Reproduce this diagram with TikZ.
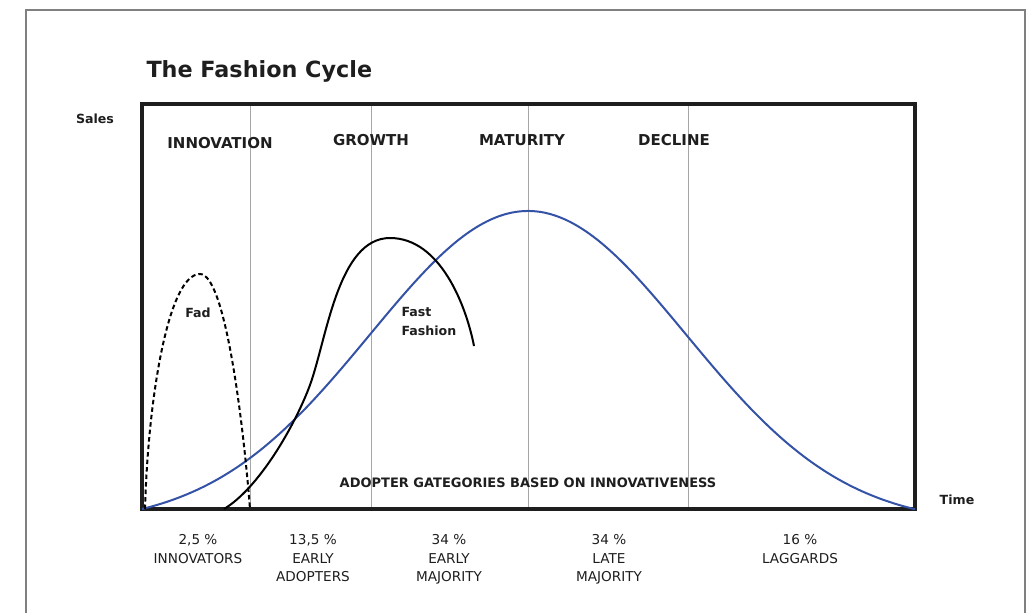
\documentclass[tikz,border=0pt]{standalone}
\usepackage{fontspec}
\setmainfont{DejaVu Sans}

\definecolor{bellblue}{RGB}{52,82,166}
\definecolor{ink}{RGB}{30,30,30}

\begin{document}
\begin{tikzpicture}[x=1pt,y=-1pt,
  phase/.style={font=\bfseries\fontsize{15}{16}\selectfont,text=ink,anchor=base},
  group/.style={font=\fontsize{13.6}{18.5}\selectfont,text=ink,align=center,anchor=north},
  axislabel/.style={font=\bfseries\fontsize{12.6}{14}\selectfont,text=ink,anchor=base},
  curvelabel/.style={font=\bfseries\fontsize{12.6}{19}\selectfont,text=ink,align=left}]
\useasboundingbox (0,0) rectangle (1034,613);

% frame
\draw[gray,line width=1.5pt] (26,613) -- (26,10) -- (1025,10) -- (1025,613);

\node[anchor=base west,font=\bfseries\fontsize{22.3}{28}\selectfont,text=ink] (title) at (143,77) {The Fashion Cycle};

% phase separators
\foreach \x in {250,371,528,688}
  \draw[gray!70,line width=0.8pt] (\x,104) -- (\x,508);

\draw[line width=3.2pt,ink] (142,104) rectangle (915,509);

\node[phase] (innov) at (220,148) {INNOVATION};
\node[phase] (growth) at (371,145) {GROWTH};
\node[phase] (matur) at (522,145) {MATURITY};
\node[phase] (decl) at (674,145) {DECLINE};

\node[axislabel] (sales) at (95,123) {Sales};
\node[axislabel] (time) at (957,504) {Time};

% curves
\draw[bellblue,line width=2pt] plot[domain=142:915,samples=120,smooth]
  (\x,{509-298*(exp(-((\x-528)/158)^2/2)-0.0505)/0.9495});

\draw[line width=2pt,dash pattern=on 4.5pt off 3pt]
  (145,509) .. controls (148,400) and (168,274) .. (200,274)
  .. controls (225,274) and (243,420) .. (250,509);

\draw[line width=2pt]
  (224,509) .. controls (259,488) and (295,425.5) .. (310,385)
  .. controls (327,338) and (338,238) .. (390,238)
  .. controls (440,238) and (466,305) .. (474,346);

\node[curvelabel,anchor=base] (fad) at (198,317) {Fad};
\node[curvelabel,anchor=north west] (fast) at (398,304) {Fast\\Fashion};

\node[axislabel,font=\bfseries\fontsize{13}{14}\selectfont] (adopt) at (528,487) {ADOPTER GATEGORIES BASED ON INNOVATIVENESS};

% adopter groups
\node[group] (g1) at (198,531) {2,5 \%\\INNOVATORS};
\node[group] (g2) at (313,531) {13,5 \%\\EARLY\\ADOPTERS};
\node[group] (g3) at (449,531) {34 \%\\EARLY\\MAJORITY};
\node[group] (g4) at (609,531) {34 \%\\LATE\\MAJORITY};
\node[group] (g5) at (800,531) {16 \%\\LAGGARDS};

\end{tikzpicture}
\end{document}
